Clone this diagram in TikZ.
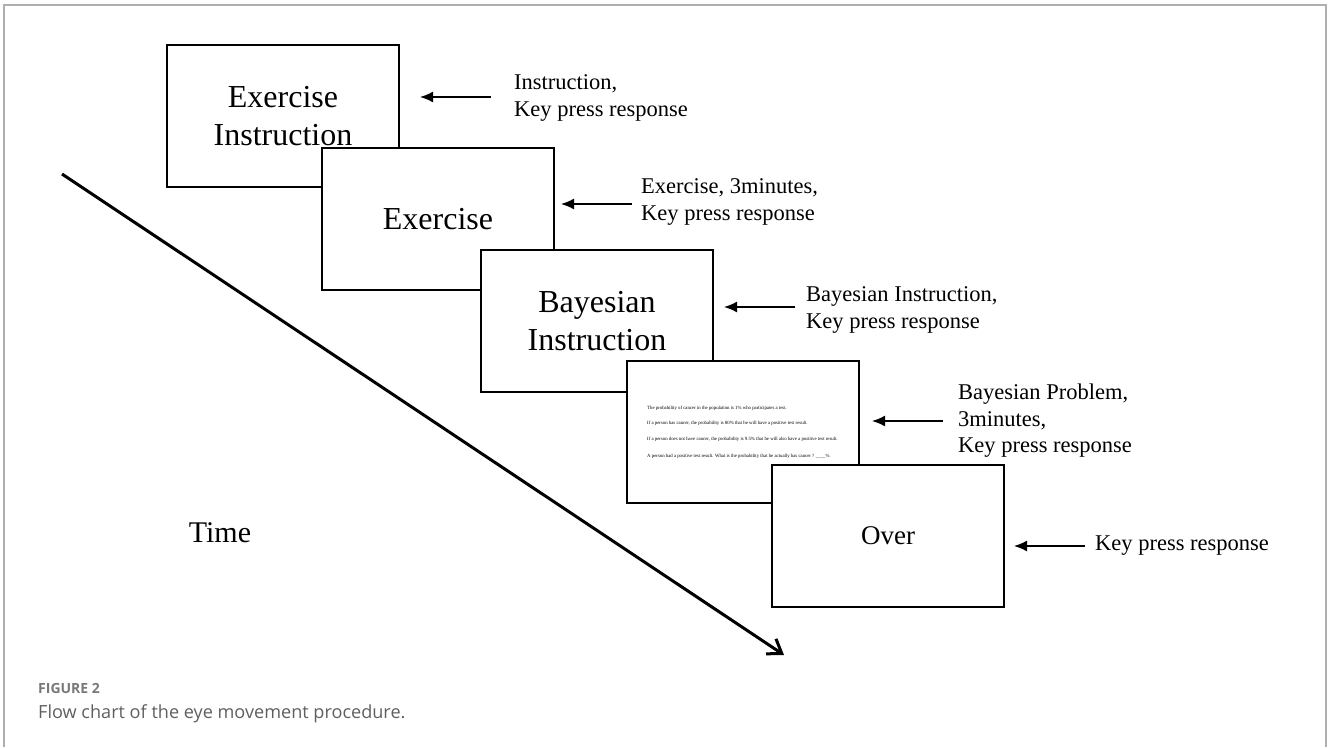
\documentclass[tikz,border=0pt]{standalone}
\usepackage{fontspec}
\setmainfont{Liberation Serif}
\newfontfamily\capfont{Open Sans}
\usetikzlibrary{arrows.meta}
\definecolor{framegray}{RGB}{175,175,175}
\definecolor{figgray}{RGB}{120,120,120}
\definecolor{capgray}{RGB}{95,95,95}
\begin{document}
\begin{tikzpicture}[x=1pt,y=-1pt,
  slide/.style={draw=black, line width=2pt, fill=white, minimum width=232pt, minimum height=142pt, inner sep=0pt, align=center, anchor=north west, font=\fontsize{32}{38}\selectfont},
  sidetxt/.style={anchor=west, align=left, inner sep=0pt, font=\fontsize{22.5}{26.5}\selectfont},
  harrow/.style={line width=1.6pt, -{Latex[length=13pt,width=11pt]}},
  probtxt/.style={anchor=base west, inner sep=0pt, font=\fontsize{4.8}{5.5}\selectfont},
  framel/.style={draw=framegray, line width=2pt}
]
\useasboundingbox (0,0) rectangle (1328,747);
% frame
\coordinate (fbl) at (4,747);
\coordinate (ftl) at (4,5);
\coordinate (ftr) at (1326,5);
\coordinate (fbr) at (1326,747);
\draw[framel] (fbl) -- (ftl) -- (ftr) -- (fbr);

% time arrow
\coordinate (ts) at (62,174);
\coordinate (te) at (784,655);
\draw[line width=3pt, -{Straight Barb[length=13pt,width=18pt]}] (ts) -- (te);
\node[font=\fontsize{30}{36}\selectfont, inner sep=0pt] (time) at (220,533) {Time};

% slides
\node[slide] (b1) at (166,44) {Exercise\\Instruction};
\node[slide] (b2) at (321,147) {Exercise};
\node[slide] (b3) at (480,249) {Bayesian\\Instruction};
\node[slide] (b4) at (626,360) {};
\node[probtxt] (p1) at (647,409) {The probability of cancer in the population is 1\% who participates a test.};
\node[probtxt] (p2) at (647,424) {If a person has cancer, the probability is 80\% that he will have a positive test result.};
\node[probtxt] (p3) at (647,440) {If a person does not have cancer, the probability is 9.5\% that he will also have a positive test result.};
\node[probtxt] (p4) at (647,457) {A person had a positive test result. What is the probability that he actually has cancer ? \_\_\_\_\%};
\node[slide, font=\fontsize{27}{32}\selectfont] (b5) at (771,464) {Over};

% side labels
\node[sidetxt] (l1) at (514,98) {Instruction,\\Key press response};
\node[sidetxt] (l2) at (641,202) {Exercise, 3minutes,\\Key press response};
\node[sidetxt] (l3) at (806,310) {Bayesian Instruction,\\Key press response};
\node[sidetxt] (l4) at (958,421) {Bayesian Problem,\\3minutes,\\Key press response};
\node[sidetxt] (l5) at (1095,546) {Key press response};

% arrows
\coordinate (a1s) at (491,97);  \coordinate (a1e) at (420,97);
\coordinate (a2s) at (632,204); \coordinate (a2e) at (561,204);
\coordinate (a3s) at (795,307); \coordinate (a3e) at (724,307);
\coordinate (a4s) at (943,421); \coordinate (a4e) at (872,421);
\coordinate (a5s) at (1085,546); \coordinate (a5e) at (1014,546);
\draw[harrow] (a1s) -- (a1e);
\draw[harrow] (a2s) -- (a2e);
\draw[harrow] (a3s) -- (a3e);
\draw[harrow] (a4s) -- (a4e);
\draw[harrow] (a5s) -- (a5e);

% caption
\node[anchor=base west, inner sep=0pt, text=figgray, font=\capfont\bfseries\fontsize{14}{16}\selectfont] (fig) at (38,693) {FIGURE 2};
\node[anchor=base west, inner sep=0pt, text=capgray, font=\capfont\fontsize{18.1}{21}\selectfont] (cap) at (38,718) {Flow chart of the eye movement procedure.};
\end{tikzpicture}
\end{document}
